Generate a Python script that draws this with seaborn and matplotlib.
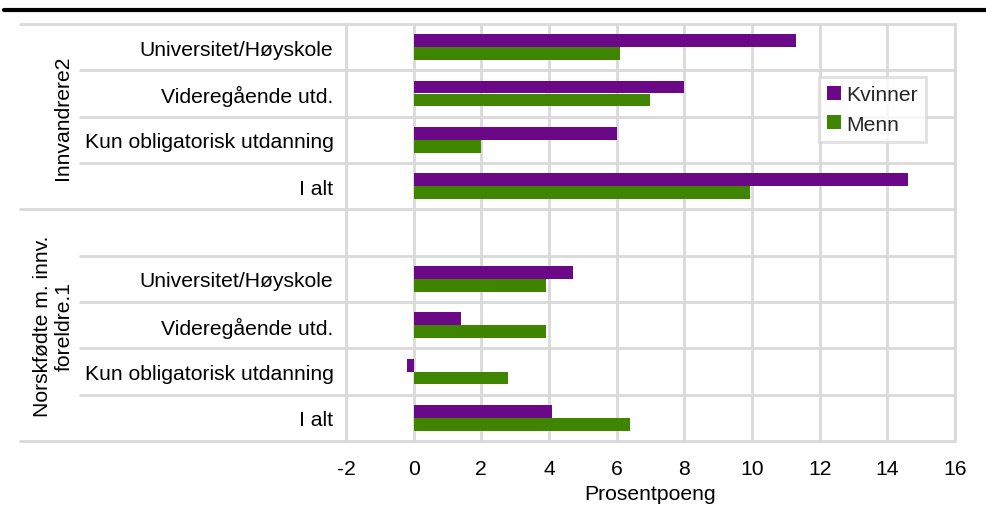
import numpy as np
import pandas as pd
import matplotlib
matplotlib.use("Agg")
import matplotlib.pyplot as plt
import seaborn as sns
from matplotlib.lines import Line2D
import matplotlib.transforms as mtransforms

groups = ["Innvandrere2", "Norskfødte m. innv.\nforeldre.1"]
education = ["Universitet/Høyskole", "Videregående utd.", "Kun obligatorisk utdanning", "I alt"]
series = ["Kvinner", "Menn"]
kvinner_innv = [11.3, 8.0, 6.0, 14.6]
menn_innv = [6.1, 7.0, 2.0, 9.95]
kvinner_nf = [4.7, 1.4, -0.2, 4.1]
menn_nf = [3.9, 3.9, 2.8, 6.4]
xticks = [-2, 0, 2, 4, 6, 8, 10, 12, 14, 16]
xlabel = "Prosentpoeng"

PURPLE = "#6A0888"
GREEN = "#3F8500"
GRID = "#D9D9D9"

rows = []
for g, kv, me in [(groups[0], kvinner_innv, menn_innv), (groups[1], kvinner_nf, menn_nf)]:
    for e, k, m in zip(education, kv, me):
        rows.append({"key": f"{g}|{e}", "Kjønn": series[0], "value": k})
        rows.append({"key": f"{g}|{e}", "Kjønn": series[1], "value": m})
df = pd.DataFrame(rows)
order = [f"{groups[0]}|{e}" for e in education] + ["blank"] + [f"{groups[1]}|{e}" for e in education]

sns.set_theme(style="white")
plt.rcParams["font.family"] = ["Liberation Sans", "DejaVu Sans"]
FS = 15.2

fig = plt.figure(figsize=(9.87, 5.06), dpi=100)
ax = fig.add_axes([346/987, 1-442/506, (955-346)/987, (442-25)/506])

sns.barplot(data=df, y="key", x="value", hue="Kjønn", order=order, hue_order=series,
            palette=[PURPLE, GREEN], width=0.55, orient="h", saturation=1, ax=ax,
            errorbar=None, zorder=3, linewidth=0)

ax.set_xlim(-2, 16)
ax.set_ylim(8.5, -0.5)
ax.set_xticks(xticks)
ax.set_xticklabels([str(t) for t in xticks], fontsize=FS, color="black")
ax.set_yticks(range(len(order)))
ax.set_yticklabels([o.split("|")[1] if "|" in o else "" for o in order], fontsize=FS, color="black")
ax.tick_params(axis="both", length=0)
ax.tick_params(axis="x", pad=13)
ax.tick_params(axis="y", pad=9)
ax.set_ylabel("")
ax.set_xlabel(xlabel, fontsize=FS, labelpad=4, color="black")
ax.grid(axis="x", color=GRID, lw=2, zorder=0)
ax.set_axisbelow(True)
for s in ["top", "bottom"]:
    ax.spines[s].set_visible(False)
for s in ["left", "right"]:
    ax.spines[s].set_color(GRID)
    ax.spines[s].set_linewidth(2)

trans = mtransforms.blended_transform_factory(ax.transAxes, ax.transData)
full_left = (20-346)/609
inner_left = (80-346)/609
for yb in np.arange(-0.5, 9, 1.0):
    xl = full_left if yb in (-0.5, 3.5, 8.5) else inner_left
    ax.add_artist(Line2D([xl, 1.0], [yb, yb], transform=trans, color=GRID, lw=2,
                         clip_on=False, zorder=1))

ax.text((62-346)/609, 1.5, groups[0], transform=trans, rotation=90, ha="center",
        va="center", fontsize=FS, color="black", clip_on=False)
ax.text((53-346)/609, 6.0, groups[1], transform=trans, rotation=90, ha="center",
        va="center", fontsize=FS, color="black", clip_on=False, multialignment="center",
        linespacing=1.2)

leg = ax.legend(loc="upper left", bbox_to_anchor=((808-346)/609, (442-67)/417),
                fontsize=FS, frameon=True, fancybox=False, handlelength=0.65,
                handleheight=0.65, handletextpad=0.25, borderpad=0.4, labelspacing=0.5,
                borderaxespad=0.5)
leg.get_frame().set_edgecolor(GRID)
leg.get_frame().set_linewidth(2)
leg.set_zorder(5)
for h in leg.legend_handles:
    h.set_linewidth(0)

fig.add_artist(Line2D([0.004, 1.0], [1-10.5/506]*2, color="black", lw=3))

fig.savefig("out.png", dpi=100)
